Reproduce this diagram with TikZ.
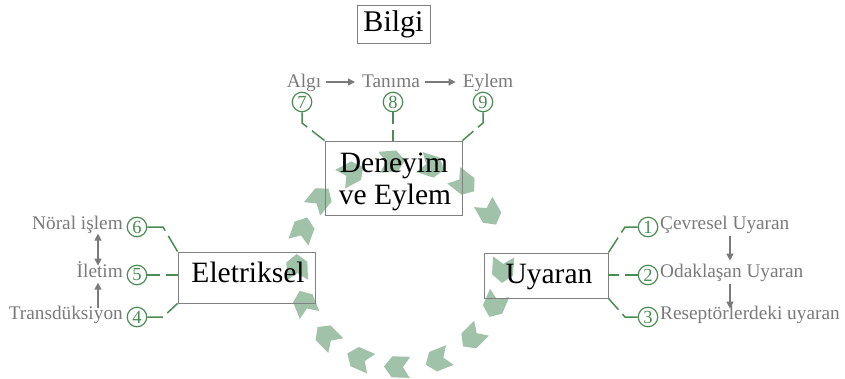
\documentclass[tikz,border=0pt]{standalone}
\usepackage{fontspec}
\setmainfont{Liberation Serif}
\usetikzlibrary{arrows.meta}
\definecolor{chevfill}{RGB}{156,193,166}
\definecolor{lgreen}{RGB}{74,140,84}
\definecolor{lblgray}{RGB}{122,122,122}
\definecolor{boxgray}{RGB}{128,128,128}
\begin{document}
\begin{tikzpicture}[x=1pt,y=-1pt,
  boxst/.style={draw=boxgray, line width=0.9pt, inner sep=0pt},
  bigtxt/.style={font=\fontsize{29.5}{32}\selectfont, text=black, inner sep=0pt, anchor=base},
  lbl/.style={font=\fontsize{19.3}{22}\selectfont, text=lblgray, inner sep=0pt},
  num/.style={circle, draw=lgreen, line width=1.2pt, minimum size=19.5pt, inner sep=0pt, text=lgreen, font=\fontsize{18.5}{18.5}\selectfont},
  conn/.style={draw=lgreen, line width=1.5pt},
  garrow/.style={draw=lblgray, line width=1.5pt, -{Triangle[length=7pt,width=7pt]}},
  chev/.style={fill=chevfill, fill opacity=0.97}
]
\fill[white] (0,0) rectangle (845,378);
\path[use as bounding box] (0,0) rectangle (845,378);

% circular chevrons
\begin{scope}[shift={(400,264)}, x=1pt, y=1pt]
\foreach \a in {160.6,140.7,118,94.4,72,51.6,29.5,-3.3,-23.4,-45.4,-68.5,-91.7,-113.3,-135.4,-157.8,-178.3} {
  \fill[chev, shift={(\a:103)}, rotate=\a-90] (-13,-10.5) -- (5,-10.5) -- (13,0) -- (5,10.5) -- (-13,10.5) -- (-6,0) -- cycle;
}
\end{scope}

% boxes
\node[boxst, minimum width=73pt, minimum height=38pt] (bil) at (393.5,24) {};
\node[bigtxt, font=\fontsize{30}{32}\selectfont] (bilt) at (393.5,31.7) {Bilgi};
\node[boxst, minimum width=137pt, minimum height=74pt] (den) at (393.5,178) {};
\node[bigtxt] (dent1) at (394,172) {Deneyim};
\node[bigtxt] (dent2) at (395,204) {ve Eylem};
\node[boxst, minimum width=137pt, minimum height=51pt] (ele) at (246.5,277.5) {};
\node[bigtxt] (elet) at (248,282) {Eletriksel};
\node[boxst, minimum width=124pt, minimum height=45pt] (uya) at (546,275.5) {};
\node[bigtxt] (uyat) at (549,283) {Uyaran};

% numbered circles
\node[num] (c7) at (302,102) {7};
\node[num] (c8) at (393,102) {8};
\node[num] (c9) at (483,102) {9};
\node[num] (c6) at (137,227) {6};
\node[num] (c5) at (137,275) {5};
\node[num] (c4) at (137,317) {4};
\node[num] (c1) at (648,227) {1};
\node[num] (c2) at (648,275) {2};
\node[num] (c3) at (648,317) {3};

% labels
\node[lbl, anchor=base] (algi) at (304,87) {Algı};
\node[lbl, anchor=base] (tan) at (391,87) {Tanıma};
\node[lbl, anchor=base] (eyl) at (488,87) {Eylem};
\node[lbl, anchor=mid east] (nor) at (123,227) {Nöral işlem};
\node[lbl, anchor=mid east] (ile) at (123,275) {İletim};
\node[lbl, anchor=mid east] (tra) at (123,317) {Transdüksiyon};
\node[lbl, anchor=mid west] (cev) at (660,227) {Çevresel Uyaran};
\node[lbl, anchor=mid west] (oda) at (660,275) {Odaklaşan Uyaran};
\node[lbl, anchor=mid west] (res) at (660,317) {Reseptörlerdeki uyaran};

% gray arrows
\coordinate (lx) at (98,0);
\coordinate (rx) at (730,0);
\draw[garrow, shorten <=5pt, shorten >=7pt] (algi.east |- 0,82) -- (tan.west |- 0,82);
\draw[garrow, shorten <=5pt, shorten >=7pt] (tan.east |- 0,82) -- (eyl.west |- 0,82);
\draw[garrow, {Triangle[length=7pt,width=7pt]}-{Triangle[length=7pt,width=7pt]}] (lx |- nor.south) -- ++(0,32);
\draw[garrow] (lx |- tra.north) ++(0,2) -- ++(0,-25);
\draw[garrow] (rx |- cev.south) ++(0,2) -- ++(0,25);
\draw[garrow] (rx |- oda.south) ++(0,2) -- ++(0,25);

% green connectors
\draw[conn, dash pattern=on 17.3pt off 6pt on 100pt] (c7) -- ++(0,21) -- (den.north west);
\draw[conn, dash pattern=on 11.8pt off 6pt on 100pt] (c8) -- (c8 |- den.north);
\draw[conn, dash pattern=on 17.3pt off 6pt on 100pt] (c9) -- ++(0,21) -- (den.north east);
\draw[conn, dash pattern=on 19.9pt off 6pt on 100pt] (c6) -- ++(26,0) -- (ele.north west);
\draw[conn, dash pattern=on 12.8pt off 6pt on 100pt] (c5) -- (c5 -| ele.west);
\draw[conn, dash pattern=on 15.5pt off 6pt on 100pt] (c4) -- ++(26,0) -- (ele.south west);
\draw[conn, dash pattern=on 19.3pt off 6pt on 100pt] (c1) -- ++(-23,0) -- (uya.north east);
\draw[conn, dash pattern=on 12.3pt off 6pt on 100pt] (c2) -- (c2 -| uya.east);
\draw[conn, dash pattern=on 16.5pt off 6pt on 100pt] (c3) -- ++(-23,0) -- (uya.south east);
\end{tikzpicture}
\end{document}
